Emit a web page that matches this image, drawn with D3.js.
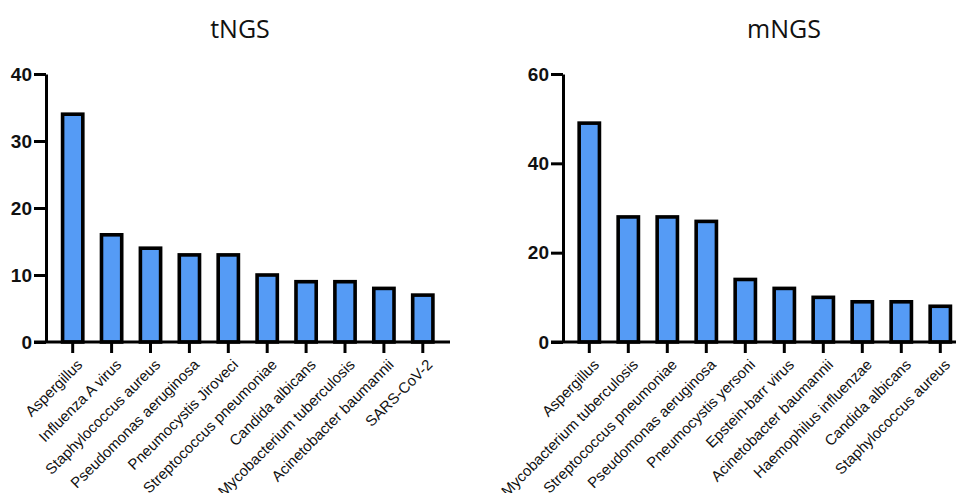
<!DOCTYPE html>
<html>
<head>
<meta charset="utf-8">
<script src="https://cdn.jsdelivr.net/npm/d3@7"></script>
<style>
  html, body { margin: 0; padding: 0; background: #fff; }
  svg { display: block; }
</style>
</head>
<body>
<svg id="chart" width="956" height="493"></svg>
<script>
// Pathogen counts detected by each sequencing method
const tngsPathogens = ["Aspergillus", "Influenza A virus", "Staphylococcus aureus", "Pseudomonas aeruginosa",
  "Pneumocystis Jiroveci", "Streptococcus pneumoniae", "Candida albicans", "Mycobacterium tuberculosis",
  "Acinetobacter baumannii", "SARS-CoV-2"];
const tngsCounts = [34, 16, 14, 13, 13, 10, 9, 9, 8, 7];
const tngsTicks = [0, 10, 20, 30, 40];

const mngsPathogens = ["Aspergillus", "Mycobacterium tuberculosis", "Streptococcus pneumoniae", "Pseudomonas aeruginosa",
  "Pneumocystis yersoni", "Epstein-barr virus", "Acinetobacter baumannii", "Haemophilus influenzae",
  "Candida albicans", "Staphylococcus aureus"];
const mngsCounts = [49, 28, 28, 27, 14, 12, 10, 9, 9, 8];
const mngsTicks = [0, 20, 40, 60];

const svg = d3.select("#chart");
const fill = "#559bf5";
const yTop = 74, yBottom = 342;

function panel(opts) {
  const g = svg.append("g");
  const y = d3.scaleLinear().domain([0, opts.yMax]).range([yBottom, yTop]);
  const x = d3.scaleBand().domain(opts.names)
    .range(opts.xRange).paddingInner(0.48).paddingOuter(0.24);

  // title
  g.append("text")
    .attr("x", opts.titleX).attr("y", 38)
    .attr("text-anchor", "middle")
    .style("font-family", "'Open Sans', 'Noto Sans', sans-serif")
    .style("font-size", "25px")
    .attr("fill", "#111")
    .text(opts.title);

  // bars
  g.selectAll("rect.bar").data(opts.values).join("rect")
    .attr("class", "bar")
    .attr("x", (d, i) => x(opts.names[i]))
    .attr("width", x.bandwidth())
    .attr("y", d => y(d))
    .attr("height", d => y(0) - y(d))
    .attr("fill", fill)
    .attr("stroke", "#000")
    .attr("stroke-width", 3.6);

  // y axis
  const ya = g.append("g")
    .attr("transform", `translate(${opts.axisX},0)`)
    .call(d3.axisLeft(y).tickValues(opts.ticks).tickSize(12).tickPadding(2).tickSizeOuter(0));
  ya.select(".domain").attr("stroke-width", 3);
  ya.selectAll(".tick line").attr("stroke-width", 3);
  ya.selectAll(".tick text")
    .style("font-family", "'Liberation Sans', Arial, sans-serif")
    .style("font-weight", "bold")
    .style("font-size", "19px")
    .attr("fill", "#111");

  // x axis
  const xa = g.append("g")
    .attr("transform", `translate(0,${yBottom})`)
    .call(d3.axisBottom(x).tickSize(11).tickSizeOuter(0).tickPadding(0));
  xa.select(".domain").remove();
  xa.append("line")
    .attr("x1", opts.axisX - 12).attr("x2", opts.xEnd)
    .attr("y1", 0).attr("y2", 0)
    .attr("stroke", "#000").attr("stroke-width", 3);
  xa.selectAll(".tick line").attr("stroke-width", 3);
  xa.selectAll(".tick text")
    .style("font-family", "'Liberation Sans', Arial, sans-serif")
    .style("font-size", "15px")
    .attr("fill", "#111")
    .attr("text-anchor", "end")
    .attr("transform", "translate(7,20) rotate(-45)")
    .attr("dy", "0.35em")
    .attr("y", 0);
}

panel({ title: "tNGS", titleX: 240, names: tngsPathogens, values: tngsCounts, ticks: tngsTicks,
  yMax: 40, axisX: 46, xRange: [53.25, 442.25], xEnd: 450 });
panel({ title: "mNGS", titleX: 784, names: mngsPathogens, values: mngsCounts, ticks: mngsTicks,
  yMax: 60, axisX: 563, xRange: [569.8, 959.8], xEnd: 960 });
</script>
</body>
</html>
